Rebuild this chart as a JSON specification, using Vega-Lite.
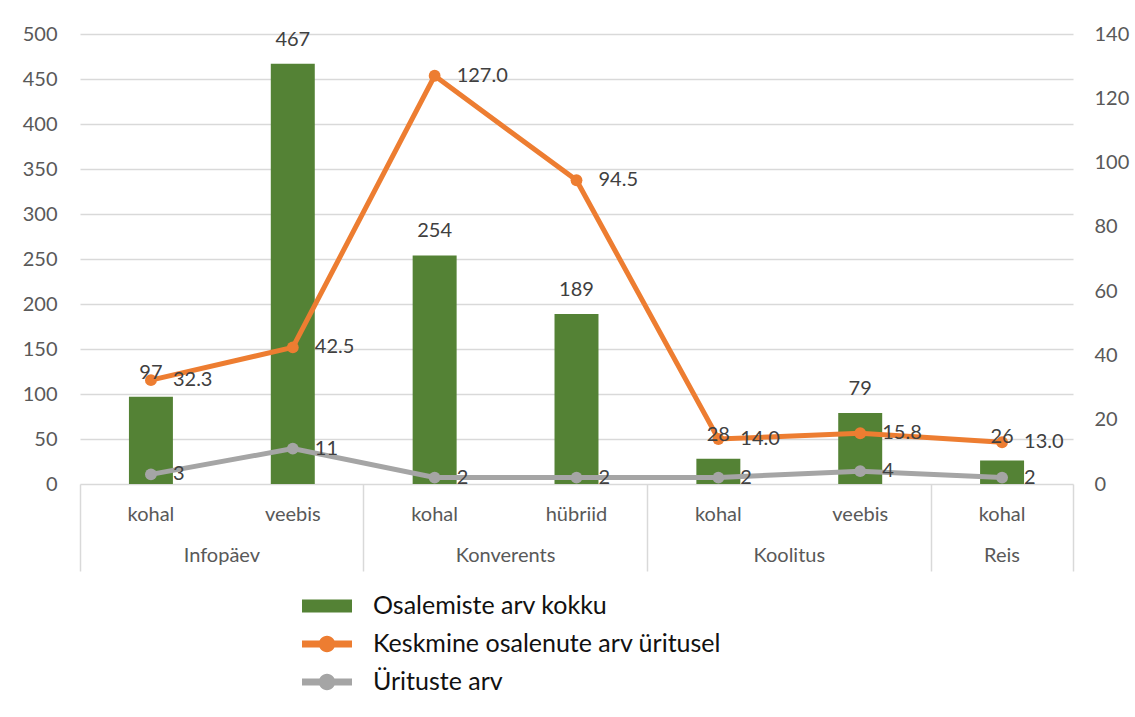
{
  "$schema": "https://vega.github.io/schema/vega-lite/v6.json",
  "width": 993,
  "height": 450,
  "autosize": {"type": "none"},
  "padding": {"left": 80, "top": 34, "right": 62, "bottom": 233},
  "background": "white",
  "config": {
    "font": "Lato",
    "view": {"stroke": null}
  },
  "data": {
    "values": [
      {"key": "Infopäev|kohal", "Osalemiste arv kokku": 97, "Keskmine osalenute arv üritusel": 32.3, "Ürituste arv": 3},
      {"key": "Infopäev|veebis", "Osalemiste arv kokku": 467, "Keskmine osalenute arv üritusel": 42.5, "Ürituste arv": 11},
      {"key": "Konverents|kohal", "Osalemiste arv kokku": 254, "Keskmine osalenute arv üritusel": 127.0, "Ürituste arv": 2},
      {"key": "Konverents|hübriid", "Osalemiste arv kokku": 189, "Keskmine osalenute arv üritusel": 94.5, "Ürituste arv": 2},
      {"key": "Koolitus|kohal", "Osalemiste arv kokku": 28, "Keskmine osalenute arv üritusel": 14.0, "Ürituste arv": 2},
      {"key": "Koolitus|veebis", "Osalemiste arv kokku": 79, "Keskmine osalenute arv üritusel": 15.8, "Ürituste arv": 4},
      {"key": "Reis|kohal", "Osalemiste arv kokku": 26, "Keskmine osalenute arv üritusel": 13.0, "Ürituste arv": 2}
    ]
  },
  "layer": [
    {
      "transform": [{"fold": ["Osalemiste arv kokku"], "as": ["series", "value"]}],
      "mark": {"type": "bar", "width": {"band": 0.31}},
      "encoding": {
        "x": {
          "field": "key", "type": "nominal", "sort": null,
          "scale": {"type": "band", "paddingInner": 0, "paddingOuter": 0},
          "axis": {
            "title": null, "orient": "bottom", "domain": false, "ticks": false, "grid": false,
            "labelExpr": "split(datum.value, '|')[1]", "labelAngle": 0, "labelFontSize": 20,
            "labelColor": "#595959", "labelPadding": 20, "labelOverlap": false
          }
        },
        "y": {
          "field": "value", "type": "quantitative",
          "scale": {"domain": [0, 500], "nice": false},
          "axis": {
            "title": null, "orient": "left", "values": [0, 50, 100, 150, 200, 250, 300, 350, 400, 450, 500],
            "domain": false, "ticks": false, "grid": true, "gridColor": "#d9d9d9", "gridWidth": 1.5,
            "labelFontSize": 20, "labelColor": "#595959", "labelPadding": 23
          }
        },
        "color": {
          "field": "series", "type": "nominal",
          "scale": {
            "domain": ["Osalemiste arv kokku", "Keskmine osalenute arv üritusel", "Ürituste arv"],
            "range": ["#548235", "#ED7D31", "#A5A5A5"]
          },
          "legend": {
            "title": null, "orient": "none", "legendX": 222, "legendY": 547, "direction": "vertical",
            "symbolSize": 2500, "labelFontSize": 25, "labelColor": "#111111", "labelOffset": 21,
            "labelLimit": 600, "padding": 0, "rowPadding": -1,
            "encode": {
              "symbols": {
                "update": {
                  "shape": {"signal": "datum.value === 'Osalemiste arv kokku' ? 'M-1,-0.26H1V0.26H-1Z' : 'M-1,-0.14H1V0.14H-1Z M0.33,0A0.33,0.33 0 1,1 -0.33,0A0.33,0.33 0 1,1 0.33,0Z'"},
                  "fill": {"signal": "scale('color', datum.value)"},
                  "stroke": {"value": "transparent"},
                  "strokeWidth": {"value": 0},
                  "opacity": {"value": 1},
                  "fillOpacity": {"value": 1}
                }
              }
            }
          }
        }
      }
    },
    {
      "transform": [{"fold": ["Keskmine osalenute arv üritusel", "Ürituste arv"], "as": ["series", "value"]}],
      "mark": {"type": "line", "strokeWidth": 5, "point": {"filled": true, "size": 140}},
      "encoding": {
        "x": {
          "field": "key", "type": "nominal", "sort": null,
          "scale": {"type": "band", "paddingInner": 0, "paddingOuter": 0},
          "axis": {
            "title": null, "orient": "bottom", "bandPosition": 1, "domain": false, "grid": false,
            "ticks": true, "tickSize": 87, "tickColor": "#d9d9d9", "tickWidth": 1.5,
            "tickOpacity": {"condition": {"test": "indexof(['Infopäev|veebis','Konverents|hübriid','Koolitus|veebis','Reis|kohal'], datum.value) >= 0", "value": 1}, "value": 0},
            "labelExpr": "indexof(['Infopäev|kohal','Konverents|kohal','Koolitus|kohal','Reis|kohal'], datum.value) >= 0 ? split(datum.value, '|')[0] : ''",
            "labelOffset": {"condition": {"test": "datum.value === 'Reis|kohal'", "value": 0}, "value": 70.93},
            "labelBaseline": "alphabetic", "labelPadding": -10, "labelAngle": 0, "labelAlign": "center",
            "labelFontSize": 20, "labelColor": "#595959", "labelOverlap": false, "labelBound": false, "labelFlush": false
          }
        },
        "y": {
          "field": "value", "type": "quantitative",
          "scale": {"domain": [0, 140], "nice": false},
          "axis": {
            "title": null, "orient": "right", "values": [0, 20, 40, 60, 80, 100, 120, 140],
            "domain": false, "ticks": false, "grid": false,
            "labelFontSize": 20, "labelColor": "#595959", "labelPadding": 21
          }
        },
        "color": {"field": "series", "type": "nominal"}
      }
    },
    {
      "transform": [{"fold": ["Osalemiste arv kokku"], "as": ["series", "value"]}],
      "mark": {"type": "text", "baseline": "middle", "dy": -24, "fontSize": 20, "color": "#404040"},
      "encoding": {
        "x": {"field": "key", "type": "nominal", "sort": null, "scale": {"type": "band", "paddingInner": 0, "paddingOuter": 0}, "axis": null},
        "y": {"field": "value", "type": "quantitative", "scale": {"domain": [0, 500], "nice": false}, "axis": null},
        "text": {"field": "value", "type": "quantitative"}
      }
    },
    {
      "mark": {"type": "text", "align": "left", "baseline": "middle", "dx": 22, "fontSize": 20, "color": "#404040"},
      "encoding": {
        "x": {
          "field": "key", "type": "nominal", "sort": null,
          "scale": {"type": "band", "paddingInner": 0, "paddingOuter": 0},
          "axis": {
            "title": null, "orient": "bottom", "bandPosition": 0, "domain": false, "grid": false,
            "labels": false, "ticks": true, "tickSize": 87, "tickColor": "#d9d9d9", "tickWidth": 1.5,
            "tickOpacity": {"condition": {"test": "datum.value === 'Infopäev|kohal'", "value": 1}, "value": 0}
          }
        },
        "y": {"field": "Keskmine osalenute arv üritusel", "type": "quantitative", "scale": {"domain": [0, 140], "nice": false}, "axis": null},
        "text": {"field": "Keskmine osalenute arv üritusel", "type": "quantitative", "format": ".1f"}
      }
    },
    {
      "mark": {"type": "text", "align": "left", "baseline": "middle", "dx": 22, "fontSize": 20, "color": "#404040"},
      "encoding": {
        "x": {"field": "key", "type": "nominal", "sort": null, "scale": {"type": "band", "paddingInner": 0, "paddingOuter": 0}, "axis": null},
        "y": {"field": "Ürituste arv", "type": "quantitative", "scale": {"domain": [0, 140], "nice": false}, "axis": null},
        "text": {"field": "Ürituste arv", "type": "quantitative", "format": "d"}
      }
    }
  ],
  "resolve": {"scale": {"y": "independent"}, "axis": {"x": "independent", "y": "independent"}}
}
